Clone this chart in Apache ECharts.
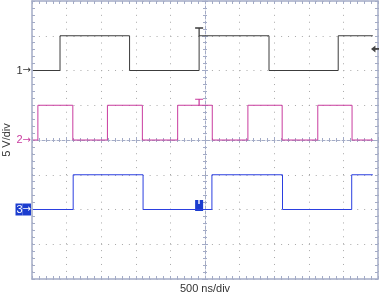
<!DOCTYPE html>
<html><head><meta charset="utf-8">
<script src="https://cdn.jsdelivr.net/npm/echarts@6/dist/echarts.min.js"></script>
<style>html,body{margin:0;padding:0;background:#fff}#c{width:382px;height:297px}</style>
</head><body><div id="c"></div>
<script>
// time in ns relative to screen centre, voltage in V (5 V/div)
const xLabel = '500 ns/div';
const yLabel = '5 V/div';
const timeStart = -2485, timeEnd = 2425;
const triggerTime = -85;
const triggerLevel = 13.1;
// channel ground offsets (V) and pulse amplitude (V)
const offsets = [10, 0, -10];
const lowLevel = 0, highLevel = 5;
// edge times (ns); each channel starts low, edges alternate rise/fall
const ch1Edges = [-2095, -1090, -85, 925, 1925];
const ch2Edges = [-2415, -1910, -1410, -905, -395, 105, 620, 1115, 1630, 2125];
const ch3Edges = [-1905, -895, 100, 1120, 2120];
const chNames = ['1', '2', '3'];
const chColors = ['#3c3c3c', '#c93c9f', '#2b3fe0'];

function trace(edges, off) {
  const pts = [];
  let lvl = lowLevel;
  pts.push([timeStart, lvl + off]);
  edges.forEach(e => {
    pts.push([e, lvl + off]);
    lvl = (lvl === lowLevel) ? highLevel : lowLevel;
    pts.push([e, lvl + off]);
  });
  pts.push([timeEnd, lvl + off]);
  return pts;
}

const frame = '#a3abc6';
const gridCol = '#a8a8a8';
const font = 'Liberation Sans, Arial, sans-serif';
const arrowFont = 'DejaVu Sans, sans-serif';
const baseX = {type: 'value', min: -2500, max: 2500, interval: 500, gridIndex: 0};
const baseY = {type: 'value', min: -20, max: 20, interval: 5, gridIndex: 0};
const noLab = {show: false};

const chart = echarts.init(document.getElementById('c'), null, {renderer: 'canvas'});
const tShape = 'path://M0,0H9V1.4H5.2V9H3.8V1.4H0Z';
chart.setOption({
  animation: false,
  grid: {left: 32, top: 1, width: 346, height: 278, outerBoundsMode: 'none', containLabel: false},
  xAxis: [
    Object.assign({}, baseX, {position: 'bottom',
      axisLine: {show: true, onZero: false, lineStyle: {color: frame, width: 1.5}},
      axisTick: {show: true, inside: true, length: 3, lineStyle: {color: frame}},
      minorTick: {show: true, splitNumber: 5, length: 3, lineStyle: {color: frame}},
      axisLabel: noLab,
      splitLine: {show: true, lineStyle: {color: gridCol, type: [1, 5.92], width: 1}},
      name: xLabel, nameLocation: 'middle', nameGap: 4, nameMoveOverlap: false,
      nameTextStyle: {fontFamily: font, fontSize: 11, color: '#333', verticalAlign: 'top'}}),
    Object.assign({}, baseX, {position: 'top',
      axisLine: {show: true, onZero: false, lineStyle: {color: frame, width: 1.5}},
      axisTick: {show: true, inside: true, length: 3, lineStyle: {color: frame}},
      minorTick: {show: true, splitNumber: 5, length: 3, lineStyle: {color: frame}},
      axisLabel: noLab, splitLine: {show: false}}),
    Object.assign({}, baseX, {position: 'bottom',
      axisLine: {show: true, onZero: true, onZeroAxisIndex: 0, lineStyle: {color: frame, width: 1, type: [3, 2]}},
      axisTick: {show: true, inside: true, length: 3, lineStyle: {color: frame}},
      minorTick: {show: true, splitNumber: 5, length: 2, lineStyle: {color: frame}},
      axisLabel: noLab, splitLine: {show: false}}),
    Object.assign({}, baseX, {position: 'bottom',
      axisLine: {show: false, onZero: true, onZeroAxisIndex: 0},
      axisTick: {show: true, inside: false, length: 3, lineStyle: {color: frame}},
      minorTick: {show: true, splitNumber: 5, length: 2, lineStyle: {color: frame}},
      axisLabel: noLab, splitLine: {show: false}})
  ],
  yAxis: [
    Object.assign({}, baseY, {position: 'left',
      axisLine: {show: true, onZero: false, lineStyle: {color: frame, width: 1.5}},
      axisTick: {show: true, inside: true, length: 3, lineStyle: {color: frame}},
      minorTick: {show: true, splitNumber: 5, length: 3, lineStyle: {color: frame}},
      splitLine: {show: true, lineStyle: {color: gridCol, type: [1, 5.92], width: 1}},
      axisLabel: {show: true, margin: 1, fontFamily: font, fontSize: 11,
        formatter: function (v) {
          const i = offsets.indexOf(v);
          if (i < 0) return '';
          const k = ['a', 'b', 'c'][i];
          return '{' + k + '|' + chNames[i] + '}{' + k + 'r|→}';
        },
        rich: {
          a: {color: '#333', fontFamily: font, fontSize: 11},
          ar: {color: '#333', fontFamily: arrowFont, fontSize: 10},
          b: {color: chColors[1], fontFamily: font, fontSize: 11},
          br: {color: chColors[1], fontFamily: arrowFont, fontSize: 10},
          c: {color: '#fff', fontFamily: font, fontSize: 11, backgroundColor: '#1c3dcf', padding: [1, 0, 0, 1]},
          cr: {color: '#fff', fontFamily: arrowFont, fontSize: 10, backgroundColor: '#1c3dcf', padding: [1, 0, 1, 0]}
        }},
      name: yLabel, nameLocation: 'middle', nameGap: 20, nameRotate: 90, nameMoveOverlap: false,
      nameTextStyle: {fontFamily: font, fontSize: 11, color: '#333'}}),
    Object.assign({}, baseY, {position: 'right',
      axisLine: {show: true, onZero: false, lineStyle: {color: frame, width: 1.5}},
      axisTick: {show: true, inside: true, length: 3, lineStyle: {color: frame}},
      minorTick: {show: true, splitNumber: 5, length: 3, lineStyle: {color: frame}},
      axisLabel: noLab, splitLine: {show: false}}),
    Object.assign({}, baseY, {position: 'left',
      axisLine: {show: true, onZero: true, onZeroAxisIndex: 0, lineStyle: {color: frame, width: 1, type: [3, 2]}},
      axisTick: {show: true, inside: true, length: 3, lineStyle: {color: frame}},
      minorTick: {show: true, splitNumber: 5, length: 2, lineStyle: {color: frame}},
      axisLabel: noLab, splitLine: {show: false}}),
    Object.assign({}, baseY, {position: 'left',
      axisLine: {show: false, onZero: true, onZeroAxisIndex: 0},
      axisTick: {show: true, inside: false, length: 3, lineStyle: {color: frame}},
      minorTick: {show: true, splitNumber: 5, length: 2, lineStyle: {color: frame}},
      axisLabel: noLab, splitLine: {show: false}})
  ],
  series: [
    {type: 'line', name: 'CH1', data: trace(ch1Edges, offsets[0]), showSymbol: false, symbol: 'none',
      lineStyle: {color: chColors[0], width: 1}, z: 5,
      markPoint: {silent: true, data: [
        {coord: [triggerTime, offsets[0] + highLevel], symbol: tShape, symbolSize: [8, 9], symbolOffset: [0, -4],
          itemStyle: {color: chColors[0]}, label: {show: false}},
        {coord: [2500, triggerLevel], symbol: 'path://M0,4L5,0V3H9V5H5V8Z', symbolSize: [8, 7], symbolOffset: [-3, 0],
          itemStyle: {color: '#444'}, label: {show: false}}
      ]}},
    {type: 'line', name: 'CH2', data: trace(ch2Edges, offsets[1]), showSymbol: false, symbol: 'none',
      lineStyle: {color: chColors[1], width: 1}, z: 5,
      markPoint: {silent: true, data: [
        {coord: [triggerTime, offsets[1] + highLevel], symbol: tShape, symbolSize: [8, 7], symbolOffset: [0, -3],
          itemStyle: {color: chColors[1]}, label: {show: false}}
      ]}},
    {type: 'line', name: 'CH3', data: trace(ch3Edges, offsets[2]), showSymbol: false, symbol: 'none',
      lineStyle: {color: chColors[2], width: 1}, z: 5,
      markPoint: {silent: true, data: [
        {coord: [triggerTime, offsets[2] + lowLevel], symbol: 'rect', symbolSize: [8, 11], symbolOffset: [0, -4],
          itemStyle: {color: '#1c3dcf'},
          label: {show: true, position: 'inside', formatter: 'T', color: '#fff', fontSize: 9, fontWeight: 'bold', fontFamily: font, offset: [0, -4]}}
      ]}}
  ]
});
</script></body></html>
